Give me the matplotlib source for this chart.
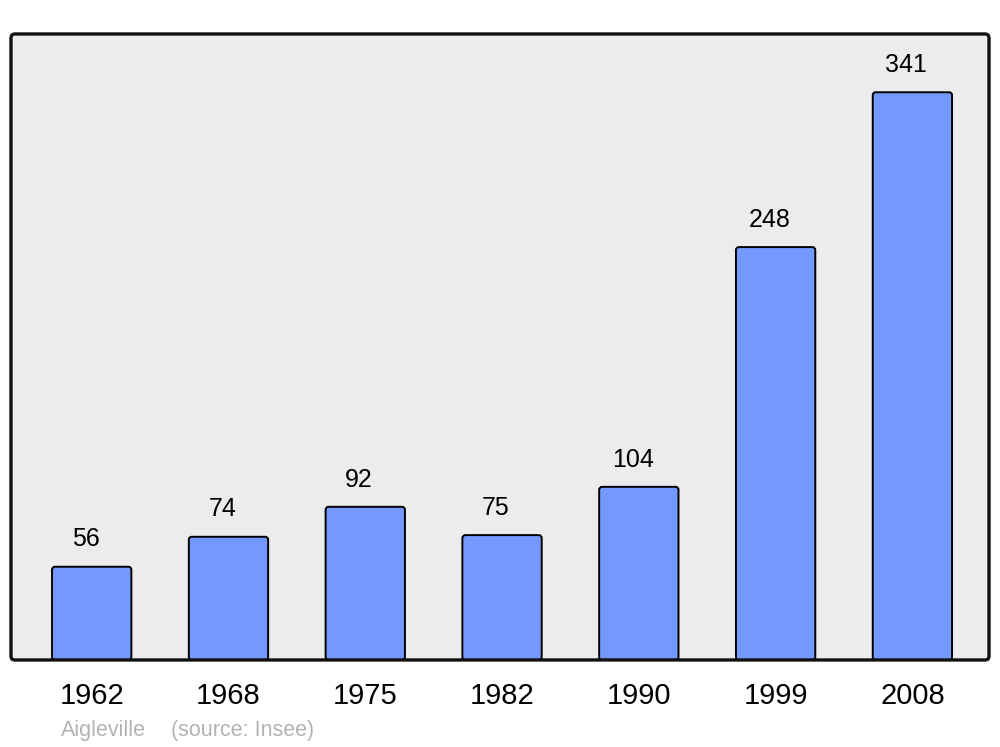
import matplotlib.pyplot as plt
import matplotlib.transforms as mtransforms
from matplotlib.patches import FancyBboxPatch

years = ["1962", "1968", "1975", "1982", "1990", "1999", "2008"]
population = [56, 74, 92, 75, 104, 248, 341]

plt.rcParams['font.family'] = ['Liberation Sans', 'DejaVu Sans']

fig = plt.figure(figsize=(10, 7.47), dpi=100)
ax = fig.add_axes([0.011, 0.1165, 0.978, 0.838])
ax.set_facecolor('#ececec')

x = list(range(len(years)))
bars = ax.bar(x, population, width=0.58, color='none', edgecolor='none')

# redraw the bars with slightly rounded corners
for b in bars:
    ax.add_patch(FancyBboxPatch((b.get_x(), b.get_y()), b.get_width(), b.get_height(),
                                boxstyle="round,pad=0,rounding_size=0.022",
                                mutation_aspect=82, facecolor='#7399ff',
                                edgecolor='black', linewidth=1.4))

for xi, v in zip(x, population):
    ax.annotate(str(v), (xi, v), xytext=(-4.5, 11), textcoords='offset points',
                ha='center', va='bottom', fontsize=18)

ax.set_xlim(-0.59, 6.56)
ax.set_ylim(0, 376)
ax.set_xticks(x)
ax.set_xticklabels(years, fontsize=21)
shift = mtransforms.ScaledTranslation(-2 / 100, 0, fig.dpi_scale_trans)
for lbl in ax.get_xticklabels():
    lbl.set_transform(lbl.get_transform() + shift)
ax.tick_params(axis='x', length=0, pad=16)
ax.set_yticks([])
for s in ax.spines.values():
    s.set_visible(False)

# rounded frame
ax.add_patch(FancyBboxPatch((0, 0), 1, 1, transform=ax.transAxes,
                            boxstyle="round,pad=0,rounding_size=0.004",
                            mutation_aspect=1.56, facecolor='none',
                            edgecolor='#111111', linewidth=2.4, clip_on=False, zorder=5))

fig.text(0.061, 0.008, "Aigleville", color='#b3b3b3', fontsize=15.5, ha='left', va='bottom')
fig.text(0.171, 0.008, "(source: Insee)", color='#b3b3b3', fontsize=15.5, ha='left', va='bottom')

fig.savefig("out.png", dpi=100)
